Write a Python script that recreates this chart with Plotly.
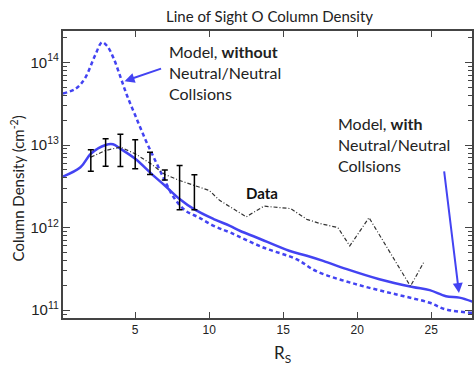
import plotly.graph_objects as go

# ---- data ----
with_x = [0.12, 1.3, 2.0, 3.0, 3.5, 4.0, 5.0, 6.1, 7.0, 8.0, 9.0, 10.3, 11.4, 12.1, 13.2,
          15.4, 16.6, 17.7, 19.3, 21.5, 23.75, 24.9, 26.0, 26.9, 27.8]
with_y = [4.15e12, 5.37e12, 7.83e12, 1.0e13, 1.02e13, 9.0e12, 6.8e12, 4.48e12, 3.23e12,
          2.22e12, 1.66e12, 1.27e12, 1.05e12, 9.1e11, 7.6e11, 5.25e11, 4.57e11, 3.96e11,
          3.14e11, 2.37e11, 1.91e11, 1.75e11, 1.48e11, 1.42e11, 1.27e11]

without_x = [0.12, 1.0, 1.6, 2.3, 2.76, 3.1, 3.54, 4.0, 4.44, 5.0, 5.7, 6.35, 7.0, 7.6, 8.4,
             9.3, 10.3, 11.4, 13.65, 15.9, 17.2, 19.9, 22.6, 24.9, 26.0, 27.8]
without_y = [4.2e13, 4.83e13, 6.4e13, 1.23e14, 1.75e14, 1.58e14, 1.12e14, 6.68e13, 4.0e13,
             2.29e13, 1.15e13, 6.5e12, 3.72e12, 2.33e12, 1.6e12, 1.33e12, 1.05e12, 8.75e11,
             5.75e11, 4.15e11, 2.99e11, 2.07e11, 1.56e11, 1.23e11, 1.02e11, 9.3e10]

data_x = [2, 3, 4, 5, 6, 7, 8, 9, 10, 10.7, 12.5, 13.7, 15.5, 16.6, 17.5, 18.7, 19.5,
          20.8, 23.6, 24.5]
data_y = [7.13e12, 8.59e12, 9.44e12, 7.83e12, 6.03e12, 4.40e12, 3.72e12, 3.24e12, 2.82e12,
          2.14e12, 1.35e12, 1.82e12, 1.70e12, 1.26e12, 1.12e12, 1.0e12, 6.0e11, 1.32e12,
          1.95e11, 3.8e11]

err_x = [2, 3, 4, 5, 6, 7, 8, 9]
err_hi = [8.77e12, 1.19e13, 1.35e13, 1.16e13, 8.2e12, 5.0e12, 5.65e12, 4.36e12]
err_lo = [4.82e12, 5.55e12, 5.50e12, 5.15e12, 4.40e12, 3.78e12, 1.64e12, 1.64e12]

BLUE = "#4343f2"
TXT = "Lato"
err_y = data_y[:len(err_x)]

fig = go.Figure()
fig.add_trace(go.Scatter(x=without_x, y=without_y, mode="lines",
                         line=dict(color=BLUE, width=2.5, dash="4px,3px", shape="spline"),
                         showlegend=False))
fig.add_trace(go.Scatter(x=with_x, y=with_y, mode="lines",
                         line=dict(color=BLUE, width=2.5, shape="spline"),
                         showlegend=False))
fig.add_trace(go.Scatter(x=data_x, y=data_y, mode="lines",
                         line=dict(color="#333333", width=1.2, dash="4px,2px,1px,2px"),
                         showlegend=False))
fig.add_trace(go.Scatter(
    x=err_x, y=err_y, mode="markers", marker=dict(size=0.1, color="black"),
    error_y=dict(type="data", symmetric=False,
                 array=[h - v for h, v in zip(err_hi, err_y)],
                 arrayminus=[v - l for v, l in zip(err_y, err_lo)],
                 color="black", thickness=1.5, width=3),
    showlegend=False))

axis_common = dict(showline=True, linecolor="#444444", linewidth=1.5, mirror="ticks",
                   ticks="inside", tickcolor="#444444", showgrid=False, zeroline=False,
                   automargin=False,
                   tickfont=dict(family="Liberation Sans", size=12, color="#222222"))

fig.update_xaxes(range=[0.12, 27.76], tick0=0, dtick=5, ticklen=6, tickwidth=1.3,
                 **axis_common)
fig.update_yaxes(type="log", range=[10.906, 14.38], dtick=1, exponentformat="power",
                 ticklen=7, tickwidth=1.3,
                 minor=dict(ticks="inside", ticklen=4, dtick="D1", tickcolor="#444444",
                            showgrid=False),
                 **axis_common)

ann = []
ann.append(dict(text="Line of Sight O Column Density", xref="paper", yref="paper",
                x=0.505, y=1.052, showarrow=False, xanchor="center", yanchor="middle",
                font=dict(family=TXT, size=15, color="#222222")))
ann.append(dict(text="Column Density (cm<sup>-2</sup>)", xref="paper", yref="paper",
                x=-0.111, y=0.45, textangle=-90, showarrow=False,
                xanchor="center", yanchor="middle",
                font=dict(family=TXT, size=15, color="#222222")))
ann.append(dict(text="R<sub>S</sub>", xref="paper", yref="paper", x=0.537, y=-0.124,
                showarrow=False, xanchor="center", yanchor="middle",
                font=dict(family=TXT, size=17, color="#222222")))
ann.append(dict(text="Model, <b>without</b><br>Neutral/Neutral<br>Collsions",
                xref="paper", yref="paper", x=(167 - 63.5) / 409, y=(317.5 - 40) / 286.5,
                showarrow=False, xanchor="left", yanchor="top", align="left",
                font=dict(family=TXT, size=16, color="#222222")))
ann.append(dict(text="Model, <b>with</b><br>Neutral/Neutral<br>Collsions",
                xref="paper", yref="paper", x=(336 - 63.5) / 409, y=(317.5 - 112) / 286.5,
                showarrow=False, xanchor="left", yanchor="top", align="left",
                font=dict(family=TXT, size=16, color="#222222")))
ann.append(dict(text="<b>Data</b>", xref="paper", yref="paper",
                x=(262 - 63.5) / 409, y=(317.5 - 193) / 286.5,
                showarrow=False, xanchor="center", yanchor="middle",
                font=dict(family=TXT, size=15, color="#111111")))
# arrows
ann.append(dict(text="", x=4.28, y=13.773, xref="x", yref="y", ax=38, ay=-13,
                showarrow=True, arrowhead=2, arrowsize=1, arrowwidth=2, arrowcolor=BLUE))
ann.append(dict(text="", x=26.88, y=11.209, xref="x", yref="y", ax=-15, ay=-123,
                showarrow=True, arrowhead=2, arrowsize=1, arrowwidth=2, arrowcolor=BLUE))

fig.update_layout(width=474, height=369, margin=dict(l=63, r=2, t=31, b=51),
                  plot_bgcolor="white", paper_bgcolor="white", annotations=ann)
fig.write_html("out.html", config={"displayModeBar": False},
               post_script="document.body.style.margin='0';document.body.style.overflow='hidden';")
